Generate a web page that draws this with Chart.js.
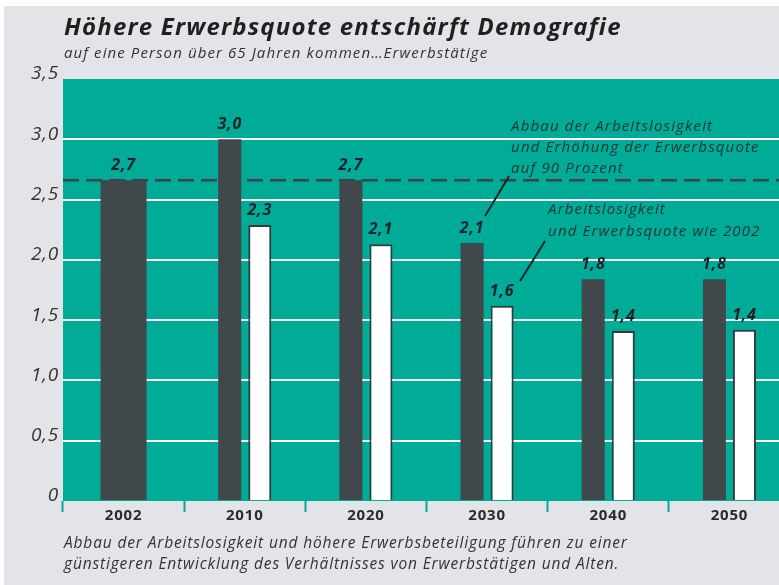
<!DOCTYPE html>
<html lang="de">
<head>
<meta charset="UTF-8">
<title>Höhere Erwerbsquote entschärft Demografie</title>
<script src="https://cdn.jsdelivr.net/npm/chart.js"></script>
<style>
html, body {
    margin: 0;
    padding: 0;
    width: 779px;
    height: 585px;
    overflow: hidden;
    background: #fff;
    font-family: 'Open Sans', sans-serif;
}
.panel {
    position: absolute;
    left: 4px;
    top: 6px;
    right: 0;
    bottom: 0;
    background: #e3e4e8;
}
.chartBox {
    position: absolute;
    left: 0;
    top: 0;
    width: 790px;
    height: 585px;
}
.title {
    position: absolute;
    left: 64px;
    top: 14px;
    font-size: 24px;
    line-height: 24px;
    font-weight: 700;
    font-style: italic;
    letter-spacing: 1.2px;
    color: #231f20;
    white-space: nowrap;
}
.subtitle {
    position: absolute;
    left: 64px;
    top: 45px;
    font-size: 15px;
    line-height: 15px;
    font-style: italic;
    letter-spacing: 1.1px;
    color: #333;
    white-space: nowrap;
}
.footer {
    position: absolute;
    left: 64px;
    top: 532px;
    font-size: 15.5px;
    line-height: 21px;
    font-style: italic;
    letter-spacing: 0.85px;
    color: #333;
    white-space: nowrap;
}
</style>
</head>
<body>
<div class="panel"></div>
<div class="chartBox"><canvas id="chart"></canvas></div>
<div class="title">Höhere Erwerbsquote entschärft Demografie</div>
<div class="subtitle">auf eine Person über 65 Jahren kommen…Erwerbstätige</div>
<div class="footer">Abbau der Arbeitslosigkeit und höhere Erwerbsbeteiligung führen zu einer<br>günstigeren Entwicklung des Verhältnisses von Erwerbstätigen und Alten.</div>
<script>
const years = ['2002', '2010', '2020', '2030', '2040', '2050'];
const base2002 = [2.66, null, null, null, null, null];
const reformValues = [null, 3.0, 2.66, 2.14, 1.84, 1.84];
const statusQuoValues = [null, 2.29, 2.13, 1.62, 1.41, 1.42];
const yTickLabels = ['0', '0,5', '1,0', '1,5', '2,0', '2,5', '3,0', '3,5'];
const referenceLevel = 2.66;
const reformNote = ['Abbau der Arbeitslosigkeit', 'und Erhöhung der Erwerbsquote', 'auf 90 Prozent'];
const statusQuoNote = ['Arbeitslosigkeit', 'und Erwerbsquote wie 2002'];

const TEAL = '#00ab97';
const DARK = '#40484b';

// teal plot background + dashed 2002 level under the bars
const plotDeco = {
    id: 'plotDeco',
    beforeDraw(chart) {
        const c = chart.ctx;
        const a = chart.chartArea;
        c.letterSpacing = '0.8px';
        c.save();
        c.fillStyle = TEAL;
        c.fillRect(a.left, a.top, a.right - a.left, a.bottom - a.top);
        c.restore();
    },
    beforeDatasetsDraw(chart) {
        const c = chart.ctx;
        const a = chart.chartArea;
        const y = chart.scales.y.getPixelForValue(referenceLevel);
        c.save();
        c.strokeStyle = '#3d4447';
        c.lineWidth = 2.5;
        c.setLineDash([16, 7]);
        c.beginPath();
        c.moveTo(a.left, y);
        c.lineTo(a.right, y);
        c.stroke();
        c.restore();
    },
    afterDatasetsDraw(chart) {
        const c = chart.ctx;
        c.save();
        c.font = 'italic bold 16px "Open Sans"';
        c.fillStyle = '#1e2224';
        c.textAlign = 'center';
        c.textBaseline = 'alphabetic';
        chart.data.datasets.forEach((ds, di) => {
            chart.getDatasetMeta(di).data.forEach((bar, i) => {
                const v = ds.data[i];
                if (v == null) return;
                c.fillText(v.toFixed(1).replace('.', ','), bar.x, bar.y - 10);
            });
        });

        // notes with leader lines, placed next to 2030
        const cx = chart.scales.x.getPixelForValue(3);
        const top = chart.chartArea.top;
        c.letterSpacing = '1.15px';
        c.font = 'italic 15px "Open Sans"';
        c.fillStyle = '#1c3532';
        c.textAlign = 'left';
        reformNote.forEach((t, i) => c.fillText(t, cx + 24, top + 52 + i * 21));
        statusQuoNote.forEach((t, i) => c.fillText(t, cx + 61, top + 135 + i * 22));
        c.strokeStyle = '#1a2526';
        c.lineWidth = 2;
        c.beginPath();
        c.moveTo(cx + 22, top + 97);
        c.lineTo(cx - 2, top + 137);
        c.moveTo(cx + 58, top + 162);
        c.lineTo(cx + 33, top + 202);
        c.stroke();
        c.restore();
    }
};

new Chart(document.getElementById('chart'), {
    type: 'bar',
    data: {
        labels: years,
        datasets: [
            {
                label: 'Abbau der Arbeitslosigkeit, Erwerbsquote 90 Prozent',
                data: reformValues,
                backgroundColor: DARK,
                borderWidth: 0,
                categoryPercentage: 0.496,
                barPercentage: 0.767
            },
            {
                label: 'Arbeitslosigkeit und Erwerbsquote wie 2002',
                data: statusQuoValues,
                backgroundColor: '#fff',
                borderColor: '#363b3e',
                borderWidth: 2,
                categoryPercentage: 0.496,
                barPercentage: 0.767
            },
            {
                label: '2002',
                data: base2002,
                backgroundColor: DARK,
                borderWidth: 0,
                grouped: false,
                categoryPercentage: 1,
                barPercentage: 0.38
            }
        ]
    },
    options: {
        responsive: true,
        maintainAspectRatio: false,
        animation: false,
        events: [],
        layout: { padding: { top: 79, left: 0, right: 0, bottom: 0 } },
        plugins: {
            legend: { display: false },
            title: { display: false },
            tooltip: { enabled: false }
        },
        scales: {
            x: {
                offset: true,
                grid: {
                    offset: true,
                    drawOnChartArea: false,
                    drawTicks: true,
                    tickLength: 11,
                    tickWidth: 2,
                    tickColor: TEAL,
                    color: TEAL
                },
                border: { display: false },
                ticks: {
                    color: '#2b2b2b',
                    font: { family: 'Open Sans', size: 15, weight: 'bold' },
                    padding: -5
                },
                afterFit(s) { s.height = 84; }
            },
            y: {
                min: 0,
                max: 3.5,
                ticks: {
                    stepSize: 0.5,
                    callback: (v, i) => yTickLabels[i],
                    color: '#333',
                    font: { family: 'Open Sans', size: 19, style: 'italic' },
                    padding: 4,
                    labelOffset: -5
                },
                grid: {
                    drawTicks: false,
                    lineWidth: 2,
                    color: c => (c.tick.value > 0 && c.tick.value < 3.5) ? '#fff' : 'rgba(0,0,0,0)'
                },
                border: { display: false },
                afterFit(s) { s.width = 63; }
            }
        }
    },
    plugins: [plotDeco]
});
</script>
</body>
</html>
